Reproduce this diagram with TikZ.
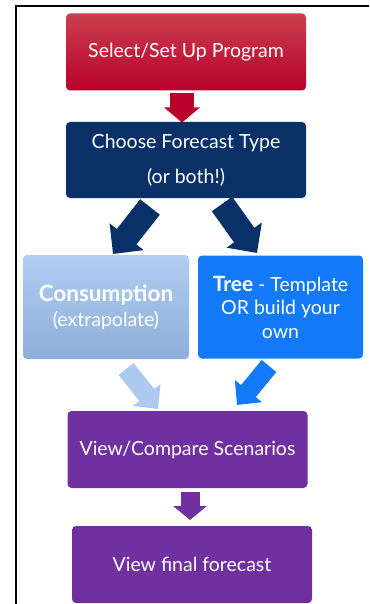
\documentclass[tikz,border=0pt]{standalone}
\usepackage{fontspec}
\setmainfont{Lato}
\usetikzlibrary{arrows.meta}
\definecolor{redtop}{HTML}{C9404F}
\definecolor{redbot}{HTML}{B8002A}
\definecolor{navy}{HTML}{0A3068}
\definecolor{ltop}{HTML}{B1CEF1}
\definecolor{lbot}{HTML}{8DAEDB}
\definecolor{treeblue}{HTML}{127AF6}
\definecolor{purp}{HTML}{7030A0}
\tikzset{
  box/.style={rounded corners=4pt, text=white, align=center, inner sep=0pt,
    font=\fontsize{19.5}{23.5}\selectfont},
}
\begin{document}
\begin{tikzpicture}[x=1pt,y=-1pt]
\useasboundingbox (0,0) rectangle (369,604);
\draw[line width=1.6pt] (16,604) -- (16,6) -- (369,6);
% boxes
\node[box, top color=redtop, bottom color=redbot, minimum width=240pt, minimum height=77pt] (sel) at (186,52) {Select/Set Up Program};
\node[box, fill=navy, minimum width=240pt, minimum height=76pt] (choose) at (186,160) {Choose Forecast Type\\[11pt](or both!)};
\node[box, top color=ltop, bottom color=lbot, minimum width=166pt, minimum height=104pt, font=\fontsize{19.5}{25}\selectfont] (cons) at (106,307) {{\fontsize{22.5}{25}\selectfont\textbf{Consumption}}\\(extrapolate)};
\node[box, fill=treeblue, minimum width=165pt, minimum height=103pt] (tree) at (280.5,307) {{\fontsize{21}{23.5}\selectfont\textbf{Tree}} - Template\\OR build your\\own};
\node[box, fill=purp, minimum width=240pt, minimum height=77pt] (comp) at (187.5,449.5) {View/Compare Scenarios};
\node[box, fill=purp, minimum width=240pt, minimum height=77pt] (fin) at (192,564.5) {View final forecast};
% arrow end points
\coordinate (r1) at (182,93);
\coordinate (r2) at (182,122.5);
\coordinate (l1) at (150,207);
\coordinate (l2) at (113,254);
\coordinate (t1) at (222,204);
\coordinate (t2) at (257,253);
\coordinate (c1) at (126,369);
\coordinate (c2) at (158,409);
\coordinate (d1) at (269,366);
\coordinate (d2) at (237,405);
\coordinate (p1) at (190,492);
\coordinate (p2) at (190,520);
% arrows
\draw[redbot, line width=24pt, -{Triangle[length=15pt,width=35pt]}] (r1) -- (r2);
\draw[navy, line width=25pt, -{Triangle[length=22pt,width=42pt]}] (l1) -- (l2);
\draw[navy, line width=25pt, -{Triangle[length=22pt,width=42pt]}] (t1) -- (t2);
\draw[ltop!85!lbot, line width=19pt, -{Triangle[length=18pt,width=34pt]}] (c1) -- (c2);
\draw[treeblue, line width=19pt, -{Triangle[length=18pt,width=34pt]}] (d1) -- (d2);
\draw[purp, line width=19pt, -{Triangle[length=14pt,width=33pt]}] (p1) -- (p2);
\end{tikzpicture}
\end{document}
